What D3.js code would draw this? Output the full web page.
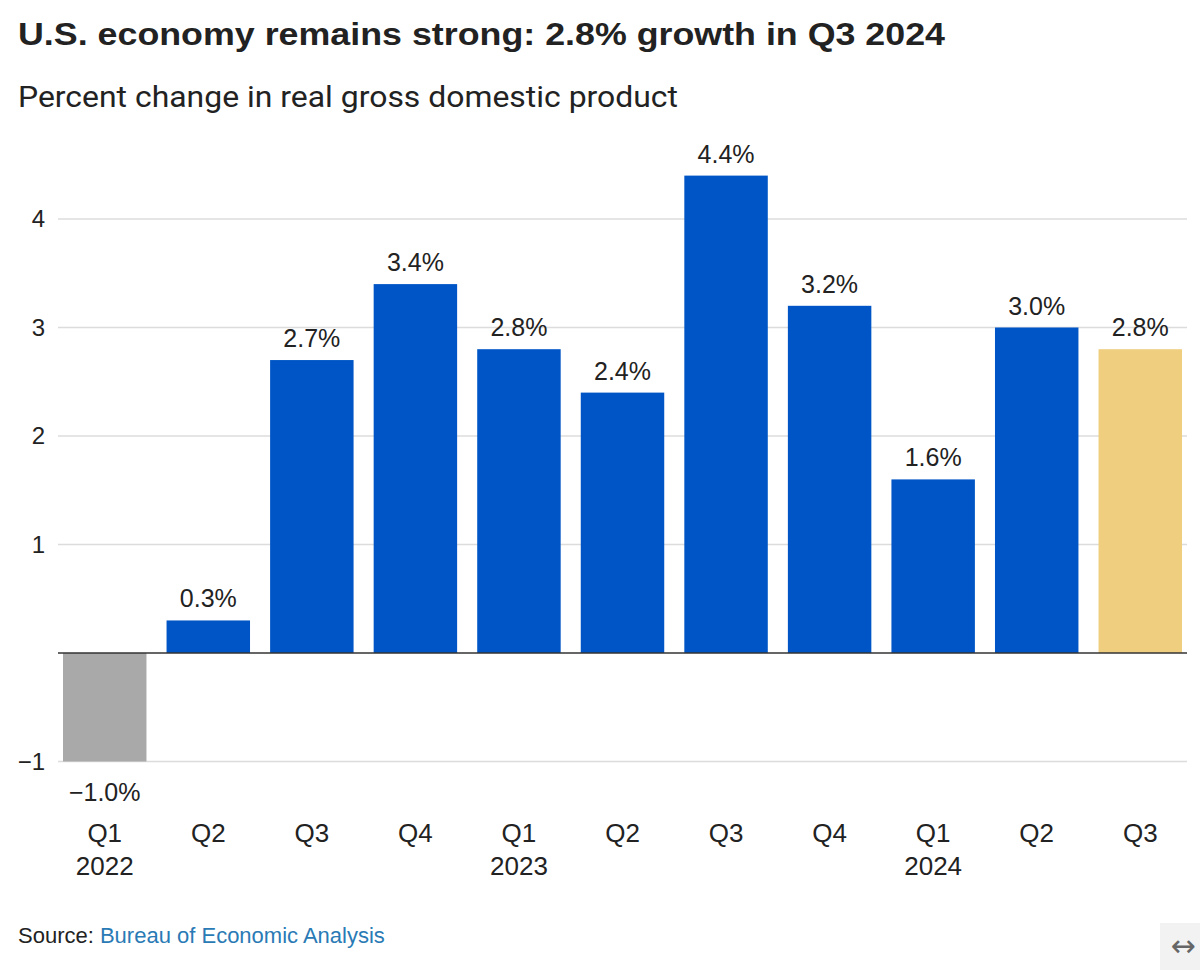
<!DOCTYPE html>
<html>
<head>
<meta charset="utf-8">
<script src="https://cdn.jsdelivr.net/npm/d3@7"></script>
<style>
  html, body { margin: 0; padding: 0; background: #fff; }
  svg { display: block; }
</style>
</head>
<body>
<svg id="chart" width="1200" height="970"></svg>
<script>
const quarters = ["Q1", "Q2", "Q3", "Q4", "Q1", "Q2", "Q3", "Q4", "Q1", "Q2", "Q3"];
const years = ["2022", "", "", "", "2023", "", "", "", "2024", "", ""];
const values = [-1.0, 0.3, 2.7, 3.4, 2.8, 2.4, 4.4, 3.2, 1.6, 3.0, 2.8];
const yTicks = [-1, 1, 2, 3, 4];
const titleText = "U.S. economy remains strong: 2.8% growth in Q3 2024";
const subtitleText = "Percent change in real gross domestic product";

const svg = d3.select("#chart");
const font = "'Liberation Sans', Arial, sans-serif";

const x = d3.scaleBand()
  .domain(d3.range(values.length))
  .range([63, 1182])
  .paddingInner(0.194)
  .paddingOuter(0);

const y = d3.scaleLinear()
  .domain([-1, 4])
  .range([761.5, 219]);

// Title & subtitle
svg.append("text")
  .attr("x", 18).attr("y", 45)
  .attr("font-family", "'Liberation Sans', Arial, sans-serif")
  .attr("font-weight", 700)
  .attr("font-size", 31)
  .attr("fill", "#222")
  .attr("textLength", 927)
  .attr("lengthAdjust", "spacingAndGlyphs")
  .text(titleText);

svg.append("text")
  .attr("x", 18).attr("y", 107)
  .attr("font-family", "Roboto, 'Liberation Sans', sans-serif")
  .attr("font-size", 30)
  .attr("fill", "#222")
  .attr("textLength", 660)
  .attr("lengthAdjust", "spacingAndGlyphs")
  .text(subtitleText);

// Gridlines
svg.append("g")
  .selectAll("line")
  .data(yTicks)
  .join("line")
  .attr("x1", 58).attr("x2", 1187)
  .attr("y1", d => y(d)).attr("y2", d => y(d))
  .attr("stroke", "#dcdcdc")
  .attr("stroke-width", 1.5);

// Y tick labels
svg.append("g")
  .selectAll("text")
  .data(yTicks)
  .join("text")
  .attr("x", 45)
  .attr("y", d => y(d))
  .attr("dy", "0.35em")
  .attr("text-anchor", "end")
  .attr("font-family", font)
  .attr("font-size", 24)
  .attr("fill", "#222")
  .text(d => d < 0 ? "\u2212" + Math.abs(d) : d);

// Bars
function barColor(d, i) {
  if (d < 0) return "#a9a9a9";
  if (i === values.length - 1) return "#efcf7f";
  return "#0055c6";
}
svg.append("g")
  .selectAll("rect")
  .data(values)
  .join("rect")
  .attr("x", (d, i) => x(i))
  .attr("width", x.bandwidth())
  .attr("y", d => y(Math.max(0, d)))
  .attr("height", d => Math.abs(y(d) - y(0)))
  .attr("fill", (d, i) => barColor(d, i));

// Baseline
svg.append("line")
  .attr("x1", 58).attr("x2", 1187)
  .attr("y1", y(0)).attr("y2", y(0))
  .attr("stroke", "#333")
  .attr("stroke-width", 1.5);

// Value labels
function fmt(d) {
  const s = Math.abs(d).toFixed(1) + "%";
  return d < 0 ? "\u2212" + s : s;
}
svg.append("g")
  .selectAll("text")
  .data(values)
  .join("text")
  .attr("x", (d, i) => x(i) + x.bandwidth() / 2)
  .attr("y", d => d < 0 ? y(d) + 39 : y(d) - 13)
  .attr("text-anchor", "middle")
  .attr("font-family", font)
  .attr("font-size", 25)
  .attr("fill", "#222")
  .text(d => fmt(d));

// X labels
const xl = svg.append("g");
xl.selectAll("text.q")
  .data(quarters)
  .join("text")
  .attr("class", "q")
  .attr("x", (d, i) => x(i) + x.bandwidth() / 2)
  .attr("y", 842)
  .attr("text-anchor", "middle")
  .attr("font-family", font)
  .attr("font-size", 26)
  .attr("fill", "#222")
  .text(d => d);
xl.selectAll("text.yr")
  .data(years)
  .join("text")
  .attr("class", "yr")
  .attr("x", (d, i) => x(i) + x.bandwidth() / 2)
  .attr("y", 875)
  .attr("text-anchor", "middle")
  .attr("font-family", font)
  .attr("font-size", 26)
  .attr("fill", "#222")
  .text(d => d);

// Source
const src = svg.append("text")
  .attr("x", 18).attr("y", 943)
  .attr("font-family", "'Liberation Sans Narrow', 'Liberation Sans', sans-serif")
  .attr("font-size", 22)
  .attr("fill", "#222");
src.append("tspan").text("Source: ");
src.append("tspan").attr("fill", "#2a7ab5").text("Bureau of Economic Analysis");

// Expand icon box
svg.append("rect")
  .attr("x", 1160).attr("y", 923)
  .attr("width", 40).attr("height", 47)
  .attr("fill", "#f2f2f2");
svg.append("text")
  .attr("x", 1183).attr("y", 956)
  .attr("text-anchor", "middle")
  .attr("font-family", "'DejaVu Sans', sans-serif")
  .attr("font-size", 30)
  .attr("fill", "#666")
  .text("\u2194");
</script>
</body>
</html>
